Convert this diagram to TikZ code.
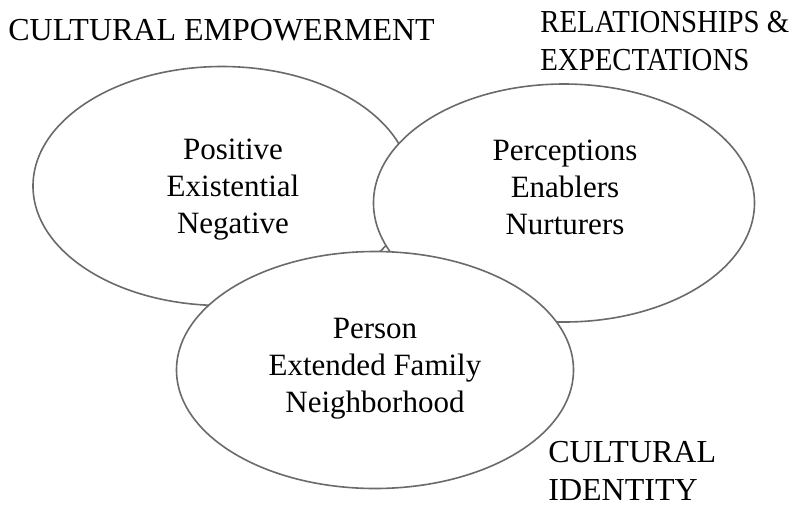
\documentclass[tikz,border=0pt]{standalone}
\usepackage{fontspec}
\setmainfont{Liberation Serif}
\usepackage{tikz}
\usetikzlibrary{shapes.geometric}
\definecolor{rim}{HTML}{6A6A6A}
\tikzset{
  venn/.style={ellipse,draw=rim,fill=white,line width=0.8pt,inner sep=0pt},
  vhead/.style={anchor=north west,inner sep=0pt,align=left,font=\fontsize{16}{19}\selectfont},
  vtext/.style={inner sep=0pt,align=center,font=\fontsize{15.5}{18.5}\selectfont}
}
\newcommand{\narrow}[1]{\scalebox{0.9}[1]{#1}}

\begin{document}
\begin{tikzpicture}[x=0.5pt,y=-0.5pt]
  \useasboundingbox (0,0) rectangle (800,511);
  % three overlapping fields, drawn back to front
  \node[venn,minimum width=189pt,minimum height=119.5pt] (empower) at (222,186) {};
  \node[venn,minimum width=190.5pt,minimum height=119pt] (relate) at (564,203) {};
  \node[venn,minimum width=198.5pt,minimum height=118.5pt] (identity) at (375,370) {};
  \node[vtext] (empowertxt) at (233,190) {Positive\\Existential\\Negative};
  \node[vtext] (relatetxt) at (565,187) {Perceptions\\Enablers\\Nurturers};
  \node[vtext] (identitytxt) at (375,369) {Person\\Extended Family\\Neighborhood};
  % headings
  \node[vhead] (empowerhd) at (8,19) {CULTURAL EMPOWERMENT};
  \node[vhead] (relatehd) at (540,11) {\narrow{RELATIONSHIPS \&}\\\narrow{EXPECTATIONS}};
  \node[vhead] (identityhd) at (548,441) {CULTURAL\\IDENTITY};
\end{tikzpicture}
\end{document}
